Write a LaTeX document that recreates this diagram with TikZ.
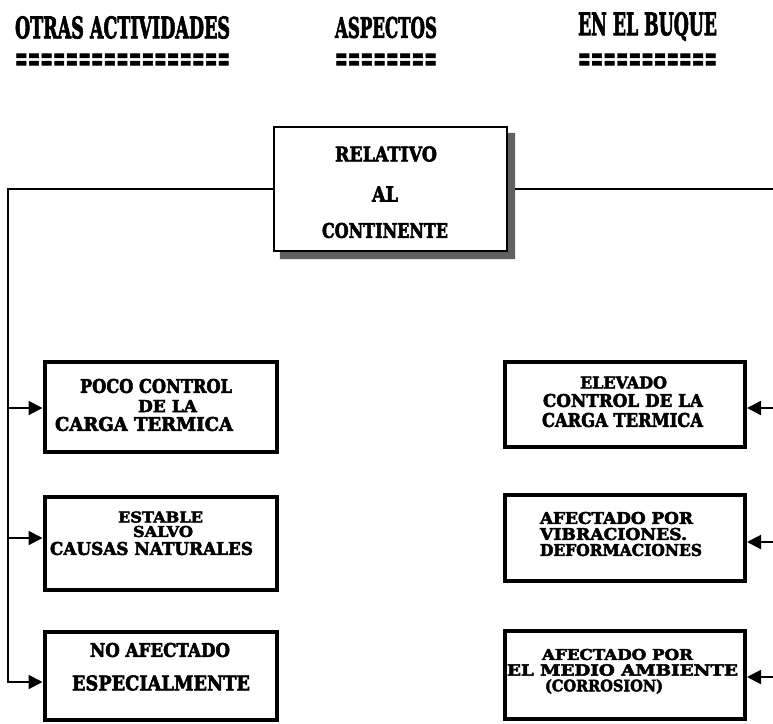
\documentclass[tikz,border=0pt]{standalone}
\usepackage{fontspec}
\setmainfont{DejaVu Serif}[BoldFeatures={FakeBold=3}]
\usepackage{graphicx}
\usetikzlibrary{arrows.meta,calc}
% one line of lettering squeezed to a given width and cap height
\newcommand{\fitln}[3]{\resizebox{#1pt}{#2pt}{\bfseries #3}}

\begin{document}
\begin{tikzpicture}[x=1pt,y=-1pt,
  box/.style={draw=black, line width=4pt, fill=white, inner sep=0pt},
  topbox/.style={draw=black, line width=2.2pt, fill=white, inner sep=0pt},
  txt/.style={inner sep=0pt, outer sep=0pt},
  conn/.style={line width=2pt, line join=miter},
  arr/.style={line width=2pt, line join=miter, -{Triangle[length=14pt,width=14pt]}},
  shade/.style={fill=black!62},
]
\fill[white] (0,0) rectangle (773,723);
\useasboundingbox (0,0) rectangle (773,723);

% column headings
\node[txt] (h1) at (122.5,27.5) {\fitln{215}{22}{OTRAS ACTIVIDADES}};
\node[txt] (h2) at (386,27.5) {\fitln{102}{21}{ASPECTOS}};
\node[txt] (h3) at (647.5,26.5) {\fitln{139}{23}{EN EL BUQUE}};
\node[txt, anchor=base] (u1) at (122.5,70) {\fitln{215}{16}{=================}};
\node[txt, anchor=base] (u2) at (386,70) {\fitln{102}{16}{========}};
\node[txt, anchor=base] (u3) at (647.5,70) {\fitln{139}{16}{===========}};

% central box with its shadow
\node[topbox, minimum width=233pt, minimum height=124pt] (tb) at (390.5,189) {};
\fill[shade] ($(tb.north east)+(0,7)$) -- ($(tb.north east)+(7,7)$)
  -- ($(tb.south east)+(7,7)$) -- ($(tb.south west)+(7,7)$)
  -- ($(tb.south west)+(7,0)$) -- (tb.south east) -- cycle;
\node[txt] (t1) at (386,154) {\fitln{102}{15}{RELATIVO}};
\node[txt] (t2) at (385,194) {\fitln{26}{15}{AL}};
\node[txt] (t3) at (385,230.5) {\fitln{126}{15}{CONTINENTE}};

% left column boxes
\node[box, minimum width=232.5pt, minimum height=90pt] (lb1) at (160.75,407) {};
\node[box, minimum width=232.5pt, minimum height=93pt] (lb2) at (160.75,543.5) {};
\node[box, minimum width=232.5pt, minimum height=88pt] (lb3) at (160.75,676) {};
% right column boxes
\node[box, minimum width=240pt, minimum height=85pt] (rb1) at (625,404.5) {};
\node[box, minimum width=240pt, minimum height=86pt] (rb2) at (625,538) {};
\node[box, minimum width=240pt, minimum height=88pt] (rb3) at (625,675) {};

% box texts
\node[txt] (l1a) at (156,386) {\fitln{152}{14}{POCO CONTROL}};
\node[txt] (l1b) at (167.5,406) {\fitln{59}{12}{DE LA}};
\node[txt] (l1c) at (144,424) {\fitln{178}{14}{CARGA TERMICA}};
\node[txt] (l2a) at (160.5,517) {\fitln{85}{11}{ESTABLE}};
\node[txt] (l2b) at (163,531.5) {\fitln{60}{11}{SALVO}};
\node[txt] (l2c) at (151.5,548.5) {\fitln{203}{13}{CAUSAS NATURALES}};
\node[txt] (l3a) at (160,650) {\fitln{140}{14}{NO AFECTADO}};
\node[txt] (l3b) at (161,683) {\fitln{178}{15}{ESPECIALMENTE}};

\node[txt] (r1a) at (623.5,382.5) {\fitln{87}{12}{ELEVADO}};
\node[txt] (r1b) at (623,400.5) {\fitln{160}{13}{CONTROL DE LA}};
\node[txt] (r1c) at (622.5,420) {\fitln{161}{14}{CARGA TERMICA}};
\node[txt] (r2a) at (616.5,518) {\fitln{153}{12}{AFECTADO POR}};
\node[txt] (r2b) at (613.5,534) {\fitln{147}{12}{VIBRACIONES.}};
\node[txt] (r2c) at (621,550) {\fitln{162}{12}{DEFORMACIONES}};
\node[txt] (r3a) at (617.5,654.5) {\fitln{151}{11}{AFECTADO POR}};
\node[txt] (r3b) at (622.5,670) {\fitln{231}{11.5}{EL MEDIO AMBIENTE}};
\node[txt] (r3c) at (604,686.5) {\fitln{118}{12}{(CORROSION)}};

% connectors
\coordinate (tl) at (8,189);
\coordinate (tr) at (773,189);
\coordinate (a1) at (8,408);
\coordinate (a2) at (8,538);
\coordinate (a3) at (8,682);
\coordinate (b1) at (773,408);
\coordinate (b2) at (773,542);
\coordinate (b3) at (773,677);

\draw[arr] (tb.west) -- (tl) -- (a3) -- (a3 -| lb3.west);
\draw[arr] (a1) -- (a1 -| lb1.west);
\draw[arr] (a2) -- (a2 -| lb2.west);
\draw[conn] ($(tb.east)+(7,0)$) -- (tr);

\draw[arr] (b1) -- (b1 -| rb1.east);
\draw[arr] (b2) -- (b2 -| rb2.east);
\draw[arr] (b3) -- (b3 -| rb3.east);
\end{tikzpicture}
\end{document}
